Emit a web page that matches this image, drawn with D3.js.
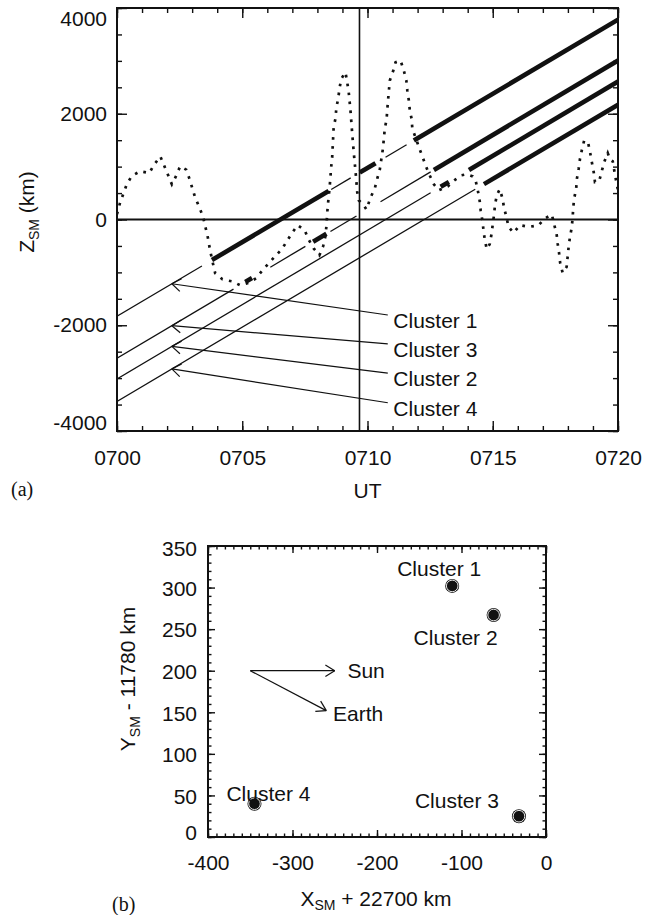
<!DOCTYPE html>
<html>
<head>
<meta charset="utf-8">
<script src="https://cdn.jsdelivr.net/npm/d3@7"></script>
<style>
  body { margin: 0; background: #fff; }
  text { font-family: "Liberation Sans", Arial, sans-serif; fill: #111; }
</style>
</head>
<body>
<svg id="fig" width="652" height="915"></svg>
<script>
// ---------- panel (a) data ----------
const utTicks = ["0700", "0705", "0710", "0715", "0720"];
const utTickMin = [0, 5, 10, 15, 20];

// dotted trace: minutes after 0700, Z_SM (km)
const traceMin = [0.00, 0.12, 0.39, 0.59, 0.92, 1.29, 1.49, 1.73, 1.89, 2.03, 2.19, 2.36, 2.52, 2.76, 2.89,
  3.12, 3.28, 3.43, 3.52, 3.61, 3.68, 3.75, 3.83, 3.92, 4.21, 4.59, 4.92, 5.25, 5.55, 5.79, 6.05, 6.32,
  6.59, 6.79, 6.99, 7.21, 7.49, 7.65, 7.85, 8.08, 8.23, 8.32, 8.36, 8.41, 8.45, 8.49, 8.52, 8.55, 8.59,
  8.65, 8.72, 8.76, 8.83, 8.88, 8.95, 9.12, 9.19, 9.25, 9.32, 9.39, 9.45, 9.53, 9.59, 9.65, 9.85, 9.96,
  10.12, 10.29, 10.39, 10.49, 10.55, 10.61, 10.65, 10.69, 10.76, 10.81, 10.89, 11.03, 11.12, 11.32, 11.45,
  11.55, 11.59, 11.65, 11.69, 11.76, 11.79, 11.96, 12.05, 12.19, 12.32, 12.45, 12.65, 12.85, 13.21, 13.43,
  13.75, 13.96, 14.2, 14.32, 14.41, 14.48, 14.52, 14.59, 14.63, 14.68, 14.76, 14.88, 14.95, 15.0, 15.05,
  15.09, 15.16, 15.28, 15.39, 15.45, 15.55, 15.63, 15.83, 16.08, 16.45, 16.83, 17.08, 17.36, 17.45, 17.55,
  17.59, 17.65, 17.69, 17.79, 17.95, 17.99, 18.03, 18.08, 18.15, 18.19, 18.21, 18.25, 18.33, 18.36, 18.43,
  18.48, 18.56, 18.65, 18.81, 18.89, 18.96, 19.03, 19.08, 19.25, 19.35, 19.45, 19.59, 19.69, 19.79, 19.85,
  19.92, 20.0];
const traceZ = [100, 313, 666, 823, 911, 879, 1043, 1194, 1011, 849, 666, 823, 1006, 943, 774,
  415, 238, 62, -126, -296, -487, -657, -832, -1017, -1132, -1170, -1245, -1200, -1113, -970, -830, -692,
  -555, -404, -253, -108, -202, -377, -547, -675, -504, -315, -126, 238, 426, 615, 804, 992, 1181,
  1747, 1906, 2125, 2283, 2472, 2660, 2785, 2596, 2408, 2062, 1623, 1275, 868, 521, 364, 270, 189,
  415, 585, 774, 943, 1132, 1321, 1509, 1717, 1887, 2200, 2628, 2817, 2974, 3006, 2817,
  2628, 2440, 2251, 2062, 1906, 1717, 1496, 1370, 1194, 1025, 868, 666, 553, 629, 728,
  836, 855, 815, 728, 534, 345, 162, -26, -202, -377, -560, -466, -277, -94, 81,
  270, 458, 572, 396, 226, 38, -140, -253, -108, -140, -108, 19, 94, -89, -277,
  -453, -642, -819, -1008, -894, -706, -517, -340, -158, 30, 208, 396, 585, 774, 962,
  1138, 1321, 1496, 1445, 1257, 1075, 898, 709, 728, 911, 1087, 1257, 1132, 1100, 930,
  742, 553];

// spacecraft tracks, listed top to bottom
const trackNames = ["Cluster 1", "Cluster 3", "Cluster 2", "Cluster 4"];
const trackZStart = [-1830, -2625, -3015, -3440];   // at 0700
const trackZEnd = [3780, 3006, 2608, 2170];         // at 0720
const trackThin = [
  [[0, 3.39], [8.55, 9.33], [10.72, 11.56]],
  [[0, 4.65], [6.12, 7.52], [8.52, 9.56], [10.52, 12.52]],
  [[0, 12.52]],
  [[0, 14.3]]
];
const trackThick = [
  [[3.79, 8.45], [9.69, 10.32], [11.85, 20]],
  [[5.12, 5.39], [7.83, 8.36], [12.65, 20]],
  [[12.92, 13.25], [14.05, 20]],
  [[14.65, 20]]
];
const markerMin = 9.68;

// ---------- panel (b) data ----------
const posNames = ["Cluster 1", "Cluster 2", "Cluster 3", "Cluster 4"];
const posX = [-111, -62, -32, -345];
const posY = [302, 267, 25, 40];
const xbTicks = [-400, -300, -200, -100, 0];
const ybTicks = [0, 50, 100, 150, 200, 250, 300, 350];

const svg = d3.select("#fig");
const ink = "#111";
const plain = d => String(d);   // hyphen-minus, as in the original

function frame(x, y, o) {
  const [x0, x1] = x.range();
  const [y0, y1] = y.range();
  const g = svg.append("g");
  const sides = [
    [d3.axisBottom(x), `translate(0,${y0})`, o.xMaj, o.xMin, true],
    [d3.axisTop(x), `translate(0,${y1})`, o.xMaj, o.xMin, false],
    [d3.axisLeft(y), `translate(${x0},0)`, o.yMaj, o.yMin, true],
    [d3.axisRight(y), `translate(${x1},0)`, o.yMaj, o.yMin, false]
  ];
  sides.forEach(([ax, tr, maj, min, lab], i) => {
    const vertical = i > 1;
    g.append("g").attr("transform", tr)
      .call(ax.tickValues(min).tickSize(-o.minLen).tickFormat(""))
      .call(s => s.select(".domain").remove());
    const a = g.append("g").attr("transform", tr)
      .call(ax.tickValues(maj).tickSize(-o.majLen)
        .tickPadding(vertical ? o.yPad : o.xPad)
        .tickFormat(lab ? (vertical ? o.yFmt : o.xFmt) : ""))
      .call(s => s.select(".domain").remove())
      .attr("font-family", null).attr("font-size", 21);
    a.selectAll("text").attr("fill", ink);
    g.selectAll("line").attr("stroke", ink).attr("stroke-width", 1.4);
    if (lab && vertical) o.yAdjust(a);
  });
  g.append("rect")
    .attr("x", x0).attr("y", y1).attr("width", x1 - x0).attr("height", y0 - y1)
    .attr("fill", "none").attr("stroke", ink).attr("stroke-width", 2);
}

// ================= panel (a) =================
const xa = d3.scaleLinear().domain([0, 20]).range([117, 618]);
const ya = d3.scaleLinear().domain([-4000, 4000]).range([431, 8]);

svg.append("defs").append("clipPath").attr("id", "clipA")
  .append("rect").attr("x", 117).attr("y", 8).attr("width", 501).attr("height", 423);
const pa = svg.append("g").attr("clip-path", "url(#clipA)");

// reference lines
pa.append("line").attr("x1", xa(0)).attr("x2", xa(20)).attr("y1", ya(0)).attr("y2", ya(0))
  .attr("stroke", ink).attr("stroke-width", 1.8);
pa.append("line").attr("x1", xa(markerMin)).attr("x2", xa(markerMin)).attr("y1", ya(4000)).attr("y2", ya(-4000))
  .attr("stroke", ink).attr("stroke-width", 1.6);

// dotted trace
const trace = traceMin.map((t, i) => [t, traceZ[i]]);
pa.append("path").datum(trace)
  .attr("d", d3.line().x(d => xa(d[0])).y(d => ya(d[1])))
  .attr("fill", "none").attr("stroke", ink).attr("stroke-width", 2.7)
  .attr("stroke-dasharray", "2.7,6.3");

// tracks
const trackZ = (i, t) => trackZStart[i] + (trackZEnd[i] - trackZStart[i]) * t / 20;
trackNames.forEach((name, i) => {
  [[trackThin[i], 1.3], [trackThick[i], 4.6]].forEach(([segs, w]) => {
    pa.selectAll(null).data(segs).enter().append("line")
      .attr("x1", d => xa(d[0])).attr("y1", d => ya(trackZ(i, d[0])))
      .attr("x2", d => xa(d[1])).attr("y2", d => ya(trackZ(i, d[1])))
      .attr("stroke", ink).attr("stroke-width", w);
  });
});

// open arrowhead helper
function arrow(g, xs, ys, xt, yt, len, spread) {
  g.append("line").attr("x1", xs).attr("y1", ys).attr("x2", xt).attr("y2", yt)
    .attr("stroke", ink).attr("stroke-width", 1.2);
  const ang = Math.atan2(ys - yt, xs - xt);
  [-spread, spread].forEach(s => {
    g.append("line").attr("x1", xt).attr("y1", yt)
      .attr("x2", xt + len * Math.cos(ang + s)).attr("y2", yt + len * Math.sin(ang + s))
      .attr("stroke", ink).attr("stroke-width", 1.2);
  });
}

// track labels with pointers
const tipMin = 2.19, tailMin = 10.81, labelMin = 11.03;
const tailZ = [-1806, -2353, -2906, -3466];
const labelZ = [-1913, -2466, -3013, -3566];
trackNames.forEach((name, i) => {
  arrow(svg, xa(tailMin), ya(tailZ[i]), xa(tipMin), ya(trackZ(i, tipMin)), 11, 0.62);
  svg.append("text").attr("x", xa(labelMin)).attr("y", ya(labelZ[i]))
    .attr("dy", "0.36em").attr("font-size", 21).text(name);
});

frame(xa, ya, {
  xMaj: utTickMin, xMin: d3.range(0, 21, 1),
  yMaj: [-4000, -2000, 0, 2000, 4000], yMin: d3.range(-4000, 4001, 500),
  majLen: 10, minLen: 5, xPad: 19, yPad: 10,
  xFmt: (d, i) => utTicks[i], yFmt: plain,
  yAdjust: a => a.selectAll(".tick text")
    .attr("transform", d => d === 4000 ? "translate(0,11)" : d === -4000 ? "translate(0,-8)" : null)
});

svg.append("text").attr("x", 367.5).attr("y", 498).attr("text-anchor", "middle")
  .attr("font-size", 21).text("UT");
const za = svg.append("text").attr("transform", "translate(34,212) rotate(-90)")
  .attr("text-anchor", "middle").attr("font-size", 21);
za.append("tspan").text("Z");
za.append("tspan").attr("font-size", 14).attr("dy", 5).text("SM");
za.append("tspan").attr("dy", -5).text(" (km)");
svg.append("text").attr("x", 11).attr("y", 496).attr("font-size", 20)
  .style("font-family", "'Liberation Serif', 'Times New Roman', serif").text("(a)");

// ================= panel (b) =================
const xb = d3.scaleLinear().domain([-400, 0]).range([208, 546]);
const yb = d3.scaleLinear().domain([0, 350]).range([837, 546]);

frame(xb, yb, {
  xMaj: xbTicks, xMin: d3.range(-400, 1, 10),
  yMaj: ybTicks, yMin: d3.range(0, 351, 10),
  majLen: 7, minLen: 3.5, xPad: 18, yPad: 11,
  xFmt: plain, yFmt: plain,
  yAdjust: a => a.selectAll(".tick text")
    .attr("transform", d => d === 350 ? "translate(0,3)" : d === 0 ? "translate(0,-4)" : "translate(0,1)")
});

// direction arrows
const dirOrigin = [-350, 200], sunTip = [-250, 200], earthTip = [-260, 152];
arrow(svg, xb(dirOrigin[0]), yb(dirOrigin[1]), xb(sunTip[0]), yb(sunTip[1]), 11, 0.55);
arrow(svg, xb(dirOrigin[0]), yb(dirOrigin[1]), xb(earthTip[0]), yb(earthTip[1]), 11, 0.55);
svg.append("text").attr("x", xb(-235)).attr("y", yb(200)).attr("dy", "0.36em")
  .attr("font-size", 21).text("Sun");
svg.append("text").attr("x", xb(-252)).attr("y", yb(149)).attr("dy", "0.36em")
  .attr("font-size", 21).text("Earth");

// spacecraft positions
const labelOffset = {
  "Cluster 1": [-13, -17], "Cluster 2": [-38, 22],
  "Cluster 3": [-62, -16], "Cluster 4": [14, -10]
};
posNames.forEach((name, i) => {
  const cx = xb(posX[i]), cy = yb(posY[i]);
  svg.append("circle").attr("cx", cx).attr("cy", cy).attr("r", 7).attr("fill", ink);
  svg.append("circle").attr("cx", cx).attr("cy", cy).attr("r", 5.8)
    .attr("fill", "none").attr("stroke", "#fff").attr("stroke-width", 0.9);
  const [dx, dy] = labelOffset[name];
  svg.append("text").attr("x", cx + dx).attr("y", cy + dy).attr("dy", "0.36em")
    .attr("text-anchor", "middle").attr("font-size", 21).text(name);
});

const xt = svg.append("text").attr("x", 376).attr("y", 906).attr("text-anchor", "middle").attr("font-size", 21);
xt.append("tspan").text("X");
xt.append("tspan").attr("font-size", 14).attr("dy", 4).text("SM");
xt.append("tspan").attr("dy", -4).text(" + 22700 km");
const yt = svg.append("text").attr("transform", "translate(135,679) rotate(-90)")
  .attr("text-anchor", "middle").attr("font-size", 21);
yt.append("tspan").text("Y");
yt.append("tspan").attr("font-size", 14).attr("dy", 5).text("SM");
yt.append("tspan").attr("dy", -5).text(" - 11780 km");
svg.append("text").attr("x", 112).attr("y", 911).attr("font-size", 20)
  .style("font-family", "'Liberation Serif', 'Times New Roman', serif").text("(b)");
</script>
</body>
</html>
